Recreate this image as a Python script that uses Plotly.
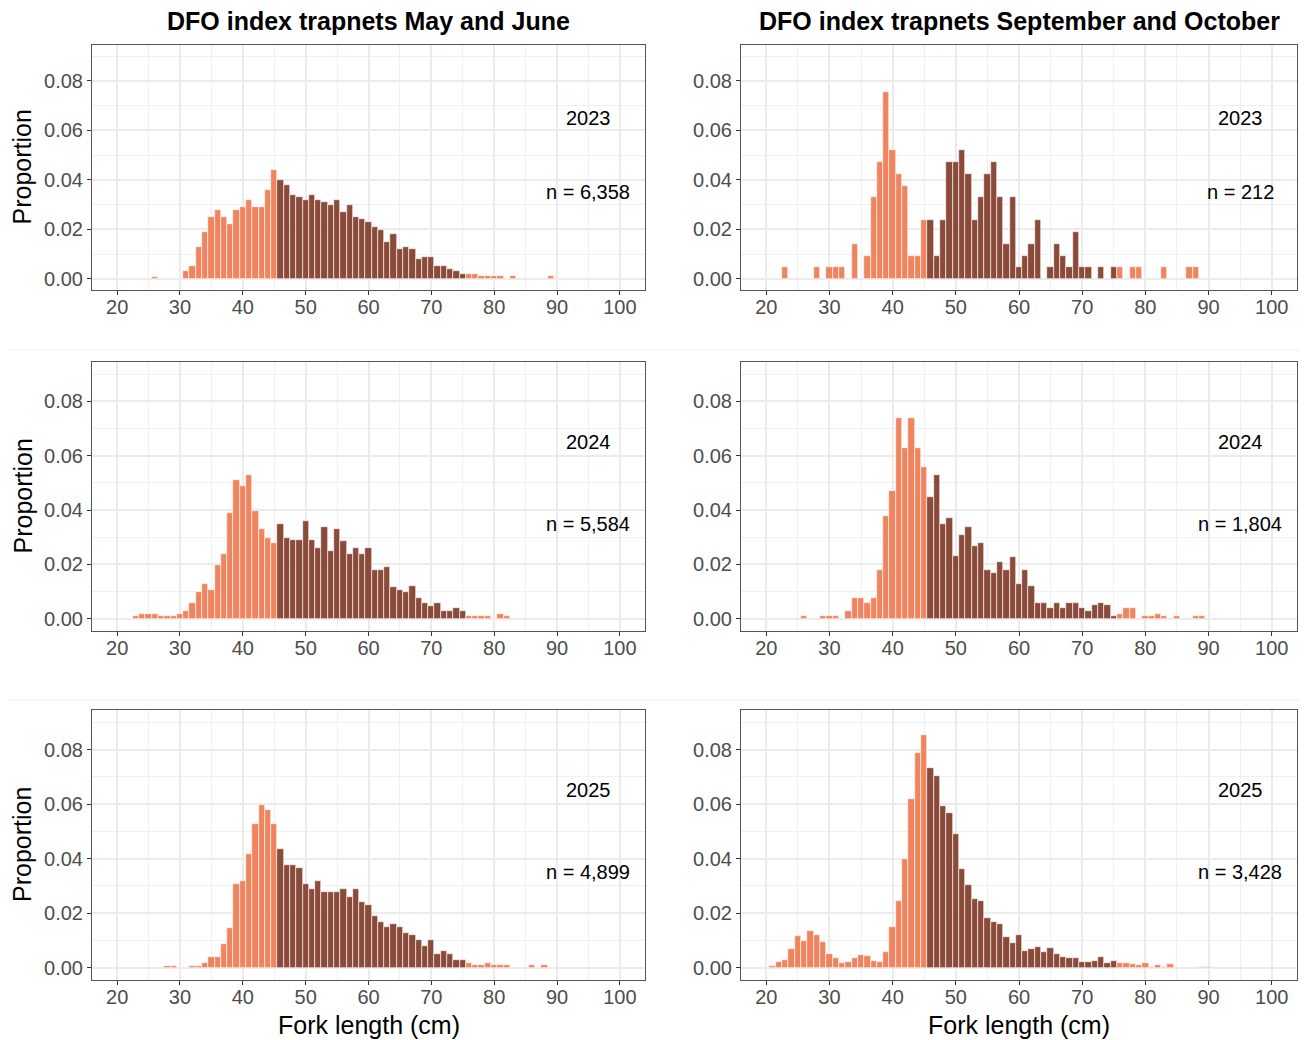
import plotly.graph_objects as go

# ---------------- data (fork length bin centre, cm -> proportion) ----------------
mj23_len = [26, 31, 32, 33, 34, 35, 36, 37, 38, 39, 40, 41, 42, 43, 44, 45,
            46, 47, 48, 49, 50, 51, 52, 53, 54, 55, 56, 57, 58, 59, 60, 61, 62, 63, 64, 65,
            66, 67, 68, 69, 70, 71, 72, 73, 74, 75, 76, 77, 78, 79, 80, 81, 83, 89]
mj23_prop = [0.0008, 0.003, 0.005, 0.0129, 0.0189, 0.0249, 0.0279, 0.0248, 0.022, 0.0279, 0.0289,
             0.0318, 0.0289, 0.0289, 0.036, 0.0438,
             0.0399, 0.0378, 0.034, 0.033, 0.032, 0.034, 0.032, 0.031, 0.030, 0.032,
             0.0269, 0.030, 0.0249, 0.024, 0.0229, 0.021, 0.0199, 0.015, 0.018, 0.012,
             0.0129, 0.012, 0.0079, 0.009, 0.009, 0.005, 0.005, 0.004, 0.003, 0.002,
             0.002, 0.002, 0.001, 0.001, 0.001, 0.001, 0.001, 0.001]

so23_len = [23, 28, 30, 31, 32, 34, 36, 37, 38, 39, 40, 41, 42, 43, 44, 45, 46, 47, 48, 49, 50,
            51, 52, 53, 54, 55, 56, 57, 58, 59, 60, 61, 62, 63, 65, 66, 67, 68, 69, 70, 71, 73,
            75, 76, 78, 79, 83, 87, 88]
so23_prop = [0.0047, 0.0047, 0.0047, 0.0047, 0.0047, 0.0142, 0.0094, 0.0330, 0.0472, 0.0755,
             0.0519, 0.0425, 0.0377, 0.0094, 0.0094, 0.0236, 0.0236, 0.0094, 0.0236, 0.0472,
             0.0472, 0.0519, 0.0425, 0.0236, 0.0330, 0.0425, 0.0472, 0.0330, 0.0142, 0.0330,
             0.0047, 0.0094, 0.0142, 0.0236, 0.0047, 0.0142, 0.0094, 0.0047, 0.0189, 0.0047,
             0.0047, 0.0047, 0.0047, 0.0047, 0.0047, 0.0047, 0.0047, 0.0047, 0.0047]

mj24_len = list(range(23, 80)) + [81, 82]
mj24_prop = [0.0009, 0.0019, 0.0019, 0.0019, 0.0009, 0.0009, 0.0009, 0.0019,
             0.0029, 0.0058, 0.0099, 0.0129, 0.0107, 0.0199, 0.0239, 0.039, 0.0509, 0.0488,
             0.053, 0.0398, 0.0329, 0.0298, 0.0279,
             0.0348, 0.0298, 0.0289, 0.0289, 0.0359, 0.0289, 0.0259, 0.0339, 0.0248, 0.0329,
             0.0287, 0.0238, 0.026, 0.0238, 0.026, 0.0179, 0.0179, 0.0189, 0.0117, 0.0107,
             0.0099, 0.0119, 0.0077, 0.0057, 0.0048, 0.0057, 0.0028, 0.0028, 0.0038, 0.0028,
             0.0009, 0.0009, 0.0009, 0.0009, 0.0018, 0.0009]

so24_len = [26, 29, 30, 31] + list(range(33, 79)) + [80, 81, 82, 83, 85, 88, 89]
so24_prop = [0.0009, 0.0009, 0.0009, 0.0009,
             0.003, 0.0078, 0.0078, 0.0058, 0.0078, 0.0179, 0.0379, 0.047, 0.074, 0.0629,
             0.074, 0.0629, 0.056,
             0.0449, 0.0529, 0.035, 0.037, 0.023, 0.031, 0.0339, 0.0268, 0.0279, 0.0179,
             0.0168, 0.0208, 0.0179, 0.0229, 0.0129, 0.0179, 0.0119, 0.0058, 0.0058, 0.0039,
             0.0058, 0.0039, 0.0058, 0.0058, 0.0039, 0.0028, 0.0049, 0.0058, 0.0049, 0.001,
             0.0018, 0.0039, 0.0039,
             0.001, 0.001, 0.0018, 0.001, 0.001, 0.001, 0.001]

mj25_len = [28, 29] + list(range(32, 83)) + [86, 88]
mj25_prop = [0.0007, 0.0007, 0.0007, 0.0007,
             0.0018, 0.0038, 0.0038, 0.0088, 0.0147, 0.0307, 0.0317, 0.0418, 0.0527, 0.0597,
             0.0577, 0.0527,
             0.0437, 0.0376, 0.0376, 0.0367, 0.0307, 0.0287, 0.0317, 0.0276, 0.0276, 0.0276,
             0.0289, 0.026, 0.0289, 0.024, 0.0229, 0.019, 0.0169, 0.015, 0.016, 0.015,
             0.0129, 0.0119, 0.01, 0.0079, 0.01, 0.005, 0.006, 0.005, 0.0029, 0.0029,
             0.0019, 0.001, 0.001, 0.0019, 0.001, 0.001, 0.001, 0.001, 0.001]

so25_len = list(range(21, 85)) + [89, 90]
so25_prop = [0.0006, 0.0021, 0.0029, 0.0069, 0.0118, 0.0097, 0.0136, 0.0119, 0.0093, 0.0051,
             0.0034, 0.0017, 0.0022, 0.0037, 0.0047, 0.0044, 0.0024, 0.0021, 0.0057, 0.015,
             0.0246, 0.0398, 0.0619, 0.0786, 0.0853,
             0.0734, 0.0702, 0.0594, 0.0568, 0.0491, 0.0363, 0.0305, 0.0253, 0.0246, 0.0184,
             0.0166, 0.016, 0.0113, 0.009, 0.0119, 0.006, 0.0067, 0.0076, 0.0057, 0.0072,
             0.005, 0.004, 0.0037, 0.0037, 0.0022, 0.0022, 0.0023, 0.004, 0.0016, 0.0026,
             0.0018, 0.0018, 0.0015, 0.0009, 0.0018, 0.0004, 0.001, 0.0004, 0.0015,
             0.0003, 0.0003]

col_titles = ["DFO index trapnets May and June", "DFO index trapnets September and October"]
years = ["2023", "2024", "2025"]
n_labels = [["n = 6,358", "n = 212"], ["n = 5,584", "n = 1,804"], ["n = 4,899", "n = 3,428"]]
slot_min, slot_max = 46, 75
x_ticks = [20, 30, 40, 50, 60, 70, 80, 90, 100]
y_ticks = [0.00, 0.02, 0.04, 0.06, 0.08]

panels = [[(mj23_len, mj23_prop), (so23_len, so23_prop)],
          [(mj24_len, mj24_prop), (so24_len, so24_prop)],
          [(mj25_len, mj25_prop), (so25_len, so25_prop)]]

# ---------------- layout geometry (page has an 8px body margin) ----------------
OFF = 8
W, H = 1307 - OFF, 1040 - OFF
col_px = [(92, 645), (741, 1297)]
row_px = [(45, 290), (362, 631), (710, 980)]
ORANGE = "#F0845F"
BROWN = "#8B4B3A"
FONT = "Liberation Sans, Arial, sans-serif"
GRID = "#EBEBEB"


def px_x(x):
    return (x - OFF) / W


def px_y(y):
    return 1 - (y - OFF) / H


fig = go.Figure()
layout = dict(width=W, height=H, margin=dict(l=0, r=0, t=0, b=0),
              paper_bgcolor="white", plot_bgcolor="white", showlegend=False,
              font=dict(family=FONT), bargap=0)
annotations = []
shapes = []

k = 0
for r in range(3):
    for c in range(2):
        k += 1
        lens, props = panels[r][c]
        colors = [BROWN if slot_min <= L <= slot_max else ORANGE for L in lens]
        fig.add_trace(go.Bar(x=lens, y=props, width=1.0,
                             marker=dict(color=colors, line=dict(color="white", width=0.6)),
                             xaxis=f"x{k}", yaxis=f"y{k}", hoverinfo="x+y"))
        x0, x1 = col_px[c]
        y0, y1 = row_px[r]
        layout[f"xaxis{k}"] = dict(
            domain=[px_x(x0), px_x(x1)], anchor=f"y{k}", range=[16, 104],
            tickvals=x_ticks, showgrid=True, gridcolor=GRID, gridwidth=1.5,
            minor=dict(showgrid=True, gridcolor="#F0F0F0", gridwidth=1,
                       tickvals=[25, 35, 45, 55, 65, 75, 85, 95]),
            ticks="outside", ticklen=4, tickcolor="#333333", tickwidth=1,
            ticklabelstandoff=-5,
            tickfont=dict(size=20, color="#4D4D4D", family=FONT),
            showline=True, linecolor="#555555", linewidth=1, mirror=True, zeroline=False)
        layout[f"yaxis{k}"] = dict(
            domain=[px_y(y1), px_y(y0)], anchor=f"x{k}", range=[-0.0045, 0.0945],
            tickvals=y_ticks, tickformat=".2f", showgrid=True, gridcolor=GRID, gridwidth=1.5,
            minor=dict(showgrid=True, gridcolor="#F0F0F0", gridwidth=1,
                       tickvals=[0.01, 0.03, 0.05, 0.07, 0.09]),
            ticks="outside", ticklen=4, tickcolor="#333333", tickwidth=1,
            tickfont=dict(size=20, color="#4D4D4D", family=FONT),
            showline=True, linecolor="#555555", linewidth=1, mirror=True, zeroline=False)
        annotations.append(dict(x=95, y=0.065, xref=f"x{k}", yref=f"y{k}", text=years[r],
                                showarrow=False, font=dict(size=20, color="black", family=FONT),
                                xanchor="center", yanchor="middle"))
        annotations.append(dict(x=95, y=0.035, xref=f"x{k}", yref=f"y{k}", text=n_labels[r][c],
                                showarrow=False, font=dict(size=20, color="black", family=FONT),
                                xanchor="center", yanchor="middle"))

# column titles and x axis titles
for c in range(2):
    cx = (col_px[c][0] + col_px[c][1]) / 2
    annotations.append(dict(x=px_x(cx), y=px_y(21), xref="paper", yref="paper",
                            text=f"<b>{col_titles[c]}</b>", showarrow=False,
                            font=dict(size=25, color="black", family=FONT),
                            xanchor="center", yanchor="middle"))
    annotations.append(dict(x=px_x(cx), y=px_y(1025), xref="paper", yref="paper",
                            text="Fork length (cm)", showarrow=False,
                            font=dict(size=25, color="black", family=FONT),
                            xanchor="center", yanchor="middle"))

# y axis titles
for r in range(3):
    cy = (row_px[r][0] + row_px[r][1]) / 2
    annotations.append(dict(x=px_x(22), y=px_y(cy), xref="paper", yref="paper",
                            text="Proportion", textangle=-90, showarrow=False,
                            font=dict(size=25, color="black", family=FONT),
                            xanchor="center", yanchor="middle"))

# faint separators between the stacked rows
for sy in (350, 700):
    shapes.append(dict(type="line", xref="paper", yref="paper", x0=0, x1=1,
                       y0=px_y(sy), y1=px_y(sy), line=dict(color="#EEEEEE", width=1)))

layout["annotations"] = annotations
layout["shapes"] = shapes
fig.update_layout(**layout)
fig.write_html("out.html")
